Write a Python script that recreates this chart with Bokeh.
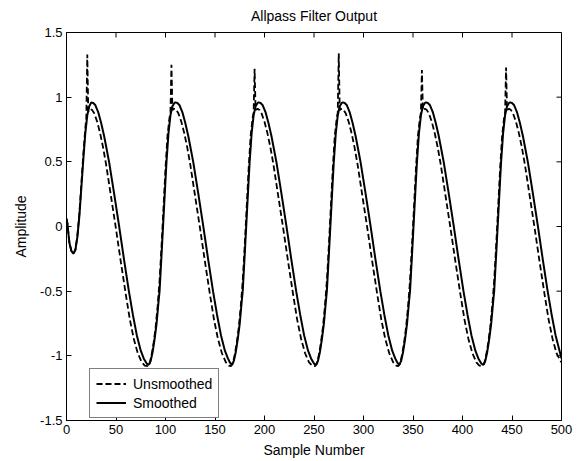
import math
from bokeh.plotting import figure
from bokeh.models import Range1d, FixedTicker, Legend, LegendItem
from bokeh.embed import file_html
from bokeh.resources import INLINE

# ---- data ----
sample_smoothed = [0, 1, 2, 3, 5, 7, 9, 11, 13, 15, 17, 19, 21, 23, 25, 27, 29, 32, 35, 38, 41, 43, 48, 53, 58, 63, 67, 71, 75, 78, 81,
                   83, 85, 87, 89, 91, 93, 94, 96, 98, 100, 101, 103, 105, 107, 109, 110, 112, 114, 117, 120, 123, 126, 128, 133, 138, 143, 148, 152, 156, 160, 163, 165,
                   167, 169, 171, 173, 175, 177, 178, 180, 182, 184, 185, 187, 189, 191, 193, 194, 196, 198, 201, 204, 207, 210, 212, 217, 222, 227, 232, 236, 240, 244, 247, 250,
                   252, 254, 256, 258, 260, 262, 263, 265, 267, 269, 270, 272, 274, 276, 278, 279, 281, 283, 286, 289, 292, 295, 297, 302, 307, 312, 317, 321, 325, 329, 332, 334,
                   336, 338, 340, 342, 344, 346, 347, 349, 351, 353, 354, 356, 358, 360, 362, 363, 365, 367, 370, 373, 376, 379, 381, 386, 391, 396, 401, 405, 409, 413, 416, 419,
                   421, 423, 425, 427, 429, 431, 432, 434, 436, 438, 439, 441, 443, 445, 447, 448, 450, 452, 455, 458, 461, 464, 466, 471, 476, 481, 486, 490, 494, 498, 500]
amp_smoothed = [0.06, 0.02, -0.06, -0.13, -0.19, -0.21, -0.18, -0.08, 0.08, 0.30, 0.52, 0.72, 0.86, 0.93, 0.96, 0.955, 0.94, 0.885, 0.80, 0.70, 0.58, 0.50, 0.26, 0.01, -0.25, -0.50, -0.68, -0.84, -0.96, -1.02, -1.06,
                -1.07, -1.04, -0.97, -0.87, -0.75, -0.58, -0.50, -0.22, 0.07, 0.36, 0.50, 0.72, 0.86, 0.93, 0.955, 0.96, 0.955, 0.94, 0.885, 0.80, 0.70, 0.58, 0.50, 0.26, 0.01, -0.25, -0.50, -0.68, -0.84, -0.96, -1.02, -1.05,
                -1.07, -1.04, -0.97, -0.87, -0.75, -0.58, -0.50, -0.22, 0.07, 0.36, 0.50, 0.72, 0.86, 0.93, 0.955, 0.96, 0.955, 0.94, 0.885, 0.80, 0.70, 0.58, 0.50, 0.26, 0.01, -0.25, -0.50, -0.68, -0.84, -0.96, -1.02, -1.06,
                -1.07, -1.04, -0.97, -0.87, -0.75, -0.58, -0.50, -0.22, 0.07, 0.36, 0.50, 0.72, 0.86, 0.93, 0.955, 0.96, 0.955, 0.94, 0.885, 0.80, 0.70, 0.58, 0.50, 0.26, 0.01, -0.25, -0.50, -0.68, -0.84, -0.96, -1.02, -1.05,
                -1.07, -1.04, -0.97, -0.87, -0.75, -0.58, -0.50, -0.22, 0.07, 0.36, 0.50, 0.72, 0.86, 0.93, 0.955, 0.96, 0.955, 0.94, 0.885, 0.80, 0.70, 0.58, 0.50, 0.26, 0.01, -0.25, -0.50, -0.68, -0.84, -0.96, -1.02, -1.06,
                -1.07, -1.04, -0.97, -0.87, -0.75, -0.58, -0.50, -0.22, 0.07, 0.36, 0.50, 0.72, 0.86, 0.93, 0.955, 0.96, 0.955, 0.94, 0.885, 0.80, 0.70, 0.58, 0.50, 0.26, 0.01, -0.25, -0.50, -0.68, -0.84, -0.96, -1.02]

sample_unsmoothed = [0, 1, 2, 3, 5, 7, 9, 11, 13, 15, 17, 19, 20, 21, 22, 24, 26, 28, 31, 34, 37, 40, 45, 50, 55, 60, 64, 68, 72, 76, 79, 82,
                     84, 86, 88, 90, 92, 94, 96, 98, 100, 102, 104, 105, 106, 107, 109, 111, 113, 116, 119, 122, 125, 130, 135, 140, 145, 149, 153, 157, 161, 164, 166,
                     168, 170, 172, 174, 176, 178, 180, 182, 184, 186, 188, 189, 190, 191, 193, 195, 197, 200, 203, 206, 209, 214, 219, 224, 229, 233, 237, 241, 245, 248, 251,
                     253, 255, 257, 259, 261, 263, 265, 267, 269, 271, 273, 274, 275, 276, 278, 280, 282, 285, 288, 291, 294, 299, 304, 309, 314, 318, 322, 326, 330, 333, 335,
                     337, 339, 341, 343, 345, 347, 349, 351, 353, 355, 357, 358, 359, 360, 362, 364, 366, 369, 372, 375, 378, 383, 388, 393, 398, 402, 406, 410, 414, 417, 420,
                     422, 424, 426, 428, 430, 432, 434, 436, 438, 440, 442, 443, 444, 445, 447, 449, 451, 454, 457, 460, 463, 468, 473, 478, 483, 487, 491, 495, 499, 500]
amp_unsmoothed = [0.06, 0.02, -0.06, -0.13, -0.19, -0.21, -0.18, -0.07, 0.10, 0.33, 0.56, 0.76, 0.84, 1.33, 0.89, 0.91, 0.90, 0.875, 0.81, 0.72, 0.61, 0.48, 0.23, -0.02, -0.28, -0.53, -0.72, -0.87, -0.98, -1.05, -1.075, -1.08,
                  -1.06, -0.99, -0.90, -0.78, -0.62, -0.42, -0.15, 0.15, 0.45, 0.70, 0.84, 0.88, 1.25, 0.90, 0.91, 0.90, 0.875, 0.81, 0.72, 0.61, 0.48, 0.23, -0.02, -0.28, -0.53, -0.72, -0.87, -0.98, -1.05, -1.075, -1.08,
                  -1.06, -0.99, -0.90, -0.78, -0.62, -0.42, -0.15, 0.15, 0.45, 0.70, 0.84, 0.88, 1.22, 0.90, 0.91, 0.90, 0.875, 0.81, 0.72, 0.61, 0.48, 0.23, -0.02, -0.28, -0.53, -0.72, -0.87, -0.98, -1.05, -1.075, -1.08,
                  -1.06, -0.99, -0.90, -0.78, -0.62, -0.42, -0.15, 0.15, 0.45, 0.70, 0.84, 0.88, 1.34, 0.90, 0.91, 0.90, 0.875, 0.81, 0.72, 0.61, 0.48, 0.23, -0.02, -0.28, -0.53, -0.72, -0.87, -0.98, -1.05, -1.075, -1.08,
                  -1.06, -0.99, -0.90, -0.78, -0.62, -0.42, -0.15, 0.15, 0.45, 0.70, 0.84, 0.88, 1.21, 0.90, 0.91, 0.90, 0.875, 0.81, 0.72, 0.61, 0.48, 0.23, -0.02, -0.28, -0.53, -0.72, -0.87, -0.98, -1.05, -1.075, -1.08,
                  -1.06, -0.99, -0.90, -0.78, -0.62, -0.42, -0.15, 0.15, 0.45, 0.70, 0.84, 0.88, 1.23, 0.90, 0.91, 0.90, 0.875, 0.81, 0.72, 0.61, 0.48, 0.23, -0.02, -0.28, -0.53, -0.72, -0.87, -0.98, -1.04, -1.05]

x_ticks = [0, 50, 100, 150, 200, 250, 300, 350, 400, 450, 500]
y_ticks = [-1.5, -1.0, -0.5, 0.0, 0.5, 1.0, 1.5]
y_tick_labels = ["-1.5", "-1", "-0.5", "0", "0.5", "1", "1.5"]
x_min, x_max = 0, 500
y_min, y_max = -1.5, 1.5

FONT = "Liberation Sans"
TICK_FS = "13px"
LABEL_FS = "14px"

p = figure(width=582, height=461, output_backend="svg", toolbar_location=None,
           x_range=Range1d(x_min, x_max), y_range=Range1d(y_min, y_max),
           min_border_left=66, min_border_right=21, min_border_top=31, min_border_bottom=41,
           title="Allpass Filter Output", x_axis_label="Sample Number", y_axis_label="Amplitude")
p.background_fill_color = "white"
p.border_fill_color = "white"
p.outline_line_color = "black"
p.outline_line_width = 1
p.grid.visible = False

p.title.align = "center"
p.title.vertical_align = "top"
p.title.text_font = FONT
p.title.text_font_size = LABEL_FS
p.title.text_font_style = "normal"
p.title.text_color = "black"
p.title.offset = 0
p.title.standoff = 14

for ax in (p.xaxis[0], p.yaxis[0]):
    ax.axis_label_text_font = FONT
    ax.axis_label_text_font_size = LABEL_FS
    ax.axis_label_text_font_style = "normal"
    ax.axis_label_text_color = "black"
    ax.major_label_text_font = FONT
    ax.major_label_text_font_size = TICK_FS
    ax.major_label_text_color = "black"
    ax.major_tick_in = 5
    ax.major_tick_out = 0
    ax.minor_tick_line_color = None
    ax.axis_line_color = "black"
    ax.major_tick_line_color = "black"

p.xaxis[0].ticker = FixedTicker(ticks=x_ticks)
p.yaxis[0].ticker = FixedTicker(ticks=y_ticks)
p.yaxis[0].major_label_overrides = {t: l for t, l in zip(y_ticks, y_tick_labels)}
p.xaxis[0].major_label_standoff = 4
p.xaxis[0].axis_label_standoff = 5
p.yaxis[0].major_label_standoff = 4
p.yaxis[0].axis_label_standoff = 8

# box-style inward ticks on the top and right edges (half of each dash is clipped by the frame)
p.scatter(x=x_ticks, y=[y_max] * len(x_ticks), marker="dash", angle=math.pi / 2,
          size=10, line_color="black", line_width=1)
p.scatter(x=[x_max] * len(y_ticks), y=y_ticks, marker="dash",
          size=10, line_color="black", line_width=1)

r_un = p.line(sample_unsmoothed, amp_unsmoothed, line_color="black", line_width=1.8, line_dash="6 3")
r_sm = p.line(sample_smoothed, amp_smoothed, line_color="black", line_width=2)

legend = Legend(items=[LegendItem(label="Unsmoothed", renderers=[r_un]),
                       LegendItem(label="Smoothed", renderers=[r_sm])],
                location=(23, 2))
legend.label_text_font = FONT
legend.label_text_font_size = LABEL_FS
legend.label_text_color = "black"
legend.border_line_color = "black"
legend.border_line_width = 1
legend.glyph_width = 30
legend.glyph_height = 17
legend.label_height = 17
legend.spacing = 2
legend.padding = 6
legend.margin = 0
legend.label_standoff = 7
p.add_layout(legend, "center")

open("out.html", "w").write(file_html(p, INLINE))
